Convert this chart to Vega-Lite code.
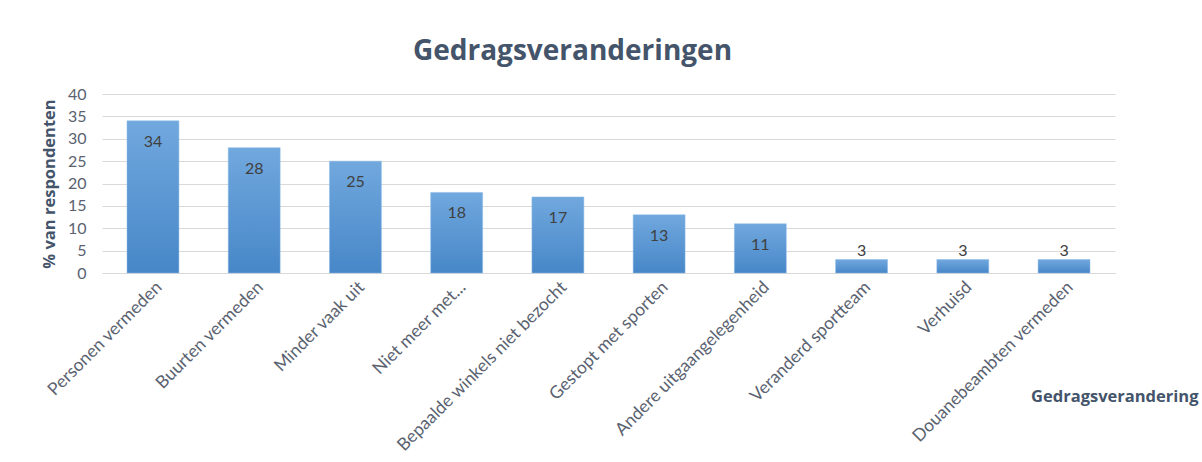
{
  "$schema": "https://vega.github.io/schema/vega-lite/v6.json",
  "width": 1013,
  "height": 179,
  "autosize": {"type": "none"},
  "padding": {"left": 102, "top": 94, "right": 87, "bottom": 189},
  "background": "white",
  "title": {
    "text": "Gedragsveranderingen",
    "fontSize": 28,
    "font": "Open Sans",
    "fontWeight": "bold",
    "color": "#44546a",
    "anchor": "middle",
    "dx": -36,
    "offset": 20
  },
  "config": {
    "view": {"stroke": null},
    "font": "Lato"
  },
  "data": {
    "values": [
      {"categorie": "Personen vermeden", "waarde": 34},
      {"categorie": "Buurten vermeden", "waarde": 28},
      {"categorie": "Minder vaak uit", "waarde": 25},
      {"categorie": "Niet meer met...", "waarde": 18},
      {"categorie": "Bepaalde winkels niet bezocht", "waarde": 17},
      {"categorie": "Gestopt met sporten", "waarde": 13},
      {"categorie": "Andere uitgaangelegenheid", "waarde": 11},
      {"categorie": "Veranderd sportteam", "waarde": 3},
      {"categorie": "Verhuisd", "waarde": 3},
      {"categorie": "Douanebeambten vermeden", "waarde": 3}
    ]
  },
  "encoding": {
    "x": {
      "field": "categorie",
      "type": "nominal",
      "sort": null,
      "scale": {"paddingInner": 0.487, "paddingOuter": 0.247},
      "axis": {
        "title": "Gedragsverandering",
        "titleFont": "Open Sans",
        "titleFontSize": 16.5,
        "titleFontWeight": "bold",
        "titleColor": "#44546a",
        "titleX": 1096,
        "titleY": 128,
        "titleAlign": "right",
        "titleBaseline": "alphabetic",
        "labelAngle": -45,
        "labelFontSize": 17.5,
        "labelColor": "#5a6270",
        "labelLimit": 400,
        "labelPadding": 5,
        "ticks": false,
        "domainColor": "#d9d9d9",
        "grid": false
      }
    },
    "y": {
      "field": "waarde",
      "type": "quantitative",
      "scale": {"domain": [0, 40]},
      "axis": {
        "title": "% van respondenten",
        "titleFont": "Open Sans",
        "titleFontSize": 16.5,
        "titleFontWeight": "bold",
        "titleColor": "#44546a",
        "titlePadding": 10,
        "values": [0, 5, 10, 15, 20, 25, 30, 35, 40],
        "labelFontSize": 16,
        "labelColor": "#5a6270",
        "labelPadding": 16,
        "ticks": false,
        "domain": false,
        "gridColor": "#d9d9d9"
      }
    }
  },
  "layer": [
    {
      "mark": {
        "type": "bar",
        "color": {
          "gradient": "linear",
          "x1": 0, "y1": 0, "x2": 0, "y2": 1,
          "stops": [
            {"offset": 0, "color": "#71a8de"},
            {"offset": 1, "color": "#4787c8"}
          ]
        },
        "stroke": "#8dbbe6",
        "strokeWidth": 0.5
      }
    },
    {
      "transform": [{"filter": "datum.waarde > 5"}],
      "mark": {"type": "text", "baseline": "top", "dy": 13, "fontSize": 16, "color": "#404040"},
      "encoding": {"text": {"field": "waarde", "type": "quantitative"}}
    },
    {
      "transform": [{"filter": "datum.waarde <= 5"}],
      "mark": {"type": "text", "baseline": "bottom", "dy": -1, "fontSize": 16, "color": "#404040"},
      "encoding": {"text": {"field": "waarde", "type": "quantitative"}}
    }
  ]
}
